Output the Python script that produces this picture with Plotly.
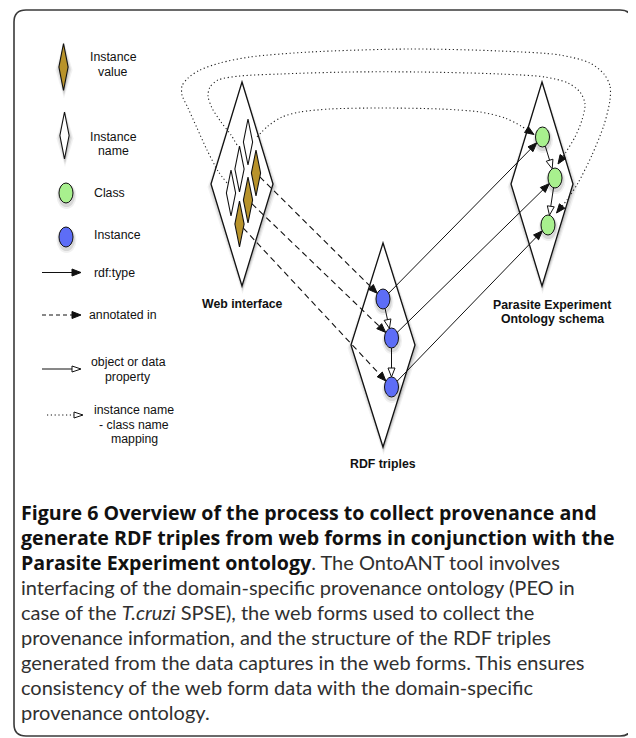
import math
import plotly.graph_objects as go

W, H = 636, 738
BODY = 8  # default page margin of the html body; figure is offset by it

# ------------------------- data -------------------------
panel_cx = [242, 383, 542]
panel_cy = [184, 345, 184]
panel_hw = [31, 32, 31]
panel_hh = [102, 102, 102]
panel_label_lines = [["Web interface"], ["RDF triples"], ["Parasite Experiment", "Ontology schema"]]
panel_label_x = [242, 383, 552]
panel_label_y = [304, 464, 305]

value_cx = [256, 248, 239.5]      # instance value (brown diamonds)
value_cy = [173, 200, 224]
name_cx = [248, 239.5, 231]       # instance name (white diamonds)
name_cy = [142, 169, 193]

inst_cx = [383, 391.5, 391.5]     # instances (blue)
inst_cy = [299, 338, 387]
class_cx = [542.5, 555, 548]      # classes (green)
class_cy = [137, 178, 225]

property_links = [(0, 1), (1, 2)]

curve_x = [
    [257, 268, 282, 300, 330, 380, 440, 480, 505, 521],
    [237, 231, 221, 212, 208, 210, 218, 240, 280, 350, 420, 500, 545, 568, 580, 585, 582, 575, 566],
    [227, 218, 207, 197, 188, 182, 182, 188, 200, 220, 250, 310, 410, 500, 560, 590, 604, 610, 610, 604, 592, 578, 567],
]
curve_y = [
    [137, 126, 117, 112, 109, 108, 109, 112, 118, 126],
    [145, 135, 122, 108, 96, 87, 80, 76, 74, 72, 72, 74, 77, 83, 92, 104, 120, 137, 152],
    [183, 171, 150, 128, 108, 95, 86, 78, 70, 63, 57, 52, 49, 51, 55, 63, 74, 86, 100, 125, 155, 183, 200],
]
curve_tip_x = [534, 558, 556.5]
curve_tip_y = [134.5, 164, 213]

legend_lines = [
    (["Instance", "value"], 113, [57, 72], "center"),
    (["Instance", "name"], 113, [136.5, 150.5], "center"),
    (["Class"], 92, [193], "left"),
    (["Instance"], 92, [234.5], "left"),
    (["rdf:type"], 92, [272.5], "left"),
    (["annotated in"], 87, [315], "left"),
    (["object or data", "property"], 128, [362, 377], "center"),
    (["instance name", "- class name", "mapping"], 134, [410, 424.5, 439], "center"),
]

caption_bold = [
    "Figure 6 Overview of the process to collect provenance and",
    "generate RDF triples from web forms in conjunction with the",
    "Parasite Experiment ontology",
    "", "", "", "", "", "",
]
caption_plain = [
    "",
    "",
    ". The OntoANT tool involves",
    "interfacing of the domain-specific provenance ontology (PEO in",
    "case of the <i>T.cruzi</i> SPSE), the web forms used to collect the",
    "provenance information, and the structure of the RDF triples",
    "generated from the data captures in the web forms. This ensures",
    "consistency of the web form data with the domain-specific",
    "provenance ontology.",
]

# ------------------------- style -------------------------
BROWN = "#b8932b"
GREEN = "#a8f08e"
BLUE = "#5d6df6"
INK = "#111111"
RX, RY = 7, 10
SHW, SHH = 4.6, 23

shapes_below = []
shapes_above = []
traces = []


def unit(dx, dy):
    d = math.hypot(dx, dy)
    return dx / d, dy / d


def ell_edge(cx, cy, ux, uy, rx=RX, ry=RY):
    t = 1 / math.sqrt((ux / rx) ** 2 + (uy / ry) ** 2)
    return cx + ux * t, cy + uy * t


def dia_edge(cx, cy, ux, uy, hw=SHW, hh=SHH):
    t = 1 / (abs(ux) / hw + abs(uy) / hh)
    return cx + ux * t, cy + uy * t


def dia_path(cx, cy, hw, hh):
    return f"M{cx},{cy-hh} L{cx+hw},{cy} L{cx},{cy+hh} L{cx-hw},{cy} Z"


def head_path(tx, ty, ux, uy, L=9, Wd=7):
    bx, by = tx - ux * L, ty - uy * L
    px, py = -uy, ux
    return (f"M{tx},{ty} L{bx+px*Wd/2},{by+py*Wd/2} "
            f"L{bx-px*Wd/2},{by-py*Wd/2} Z")


def add_line(xs, ys, dash="solid", width=1.0, color=INK):
    traces.append(go.Scatter(x=xs, y=ys, mode="lines", hoverinfo="skip",
                             line=dict(color=color, width=width, dash=dash)))


def add_head(tx, ty, ux, uy, hollow=False, L=9, Wd=7):
    shapes_above.append(dict(
        type="path", path=head_path(tx, ty, ux, uy, L, Wd), xref="x", yref="y",
        fillcolor="white" if hollow else INK, line=dict(color=INK, width=1),
        layer="above"))


def add_diamond(cx, cy, hw, hh, fill, lw, lst, shadow=True):
    layer = "below" if lst is shapes_below else "above"
    if shadow:
        for (ex, ey, dy, a) in [(4, 5, 3, 0.05), (2.5, 3, 2.5, 0.08), (1, 1.5, 2, 0.12)]:
            lst.append(dict(type="path", path=dia_path(cx + 0.5, cy + dy, hw + ex, hh + ey),
                            xref="x", yref="y", fillcolor=f"rgba(0,0,0,{a})",
                            line=dict(width=0), layer=layer))
    lst.append(dict(type="path", path=dia_path(cx, cy, hw, hh), xref="x", yref="y",
                    fillcolor=fill, line=dict(color=INK, width=lw), layer=layer))


def add_ellipse(cx, cy, fill, shadow=True):
    if shadow:
        for (e, dy, a) in [(3, 3, 0.06), (1.5, 2.5, 0.1)]:
            shapes_above.append(dict(type="circle", xref="x", yref="y",
                                     x0=cx - RX - e + 0.5, x1=cx + RX + e + 0.5,
                                     y0=cy - RY - e + dy, y1=cy + RY + e + dy,
                                     fillcolor=f"rgba(0,0,0,{a})", line=dict(width=0), layer="above"))
    shapes_above.append(dict(type="circle", xref="x", yref="y",
                             x0=cx - RX, x1=cx + RX, y0=cy - RY, y1=cy + RY,
                             fillcolor=fill, line=dict(color=INK, width=1), layer="above"))


# frame
shapes_below.append(dict(type="path", xref="x", yref="y", layer="below",
                         path="M26,10 L620,10 Q632,10 632,22 L632,724 Q632,736 620,736 "
                              "L26,736 Q14,736 14,724 L14,22 Q14,10 26,10 Z",
                         line=dict(color="#3a3a3a", width=1.6), fillcolor="white"))

# big panels
for cx, cy, hw, hh in zip(panel_cx, panel_cy, panel_hw, panel_hh):
    add_diamond(cx, cy, hw, hh, "white", 1.3, shapes_below)

# dashed "annotated in": value -> instance
for i in range(3):
    ux, uy = unit(inst_cx[i] - value_cx[i], inst_cy[i] - value_cy[i])
    sx, sy = dia_edge(value_cx[i], value_cy[i], ux, uy)
    tx, ty = ell_edge(inst_cx[i], inst_cy[i], -ux, -uy)
    add_line([sx, tx - ux * 7], [sy, ty - uy * 7], dash="6px,4px", width=1.1)
    add_head(tx, ty, ux, uy)

# solid rdf:type: instance -> class
for i in range(3):
    ux, uy = unit(class_cx[i] - inst_cx[i], class_cy[i] - inst_cy[i])
    sx, sy = ell_edge(inst_cx[i], inst_cy[i], ux, uy)
    tx, ty = ell_edge(class_cx[i], class_cy[i], -ux, -uy)
    add_line([sx, tx - ux * 7], [sy, ty - uy * 7])
    add_head(tx, ty, ux, uy)

# hollow object/data property chains
for xs, ys in [(inst_cx, inst_cy), (class_cx, class_cy)]:
    for a, b in property_links:
        ux, uy = unit(xs[b] - xs[a], ys[b] - ys[a])
        sx, sy = ell_edge(xs[a], ys[a], ux, uy)
        tx, ty = ell_edge(xs[b], ys[b], -ux, -uy)
        add_line([sx, tx - ux * 8], [sy, ty - uy * 8])
        add_head(tx, ty, ux, uy, hollow=True, L=9, Wd=7)

# dotted instance name -> class name mapping
for i in range(3):
    tx, ty = curve_tip_x[i], curve_tip_y[i]
    ux, uy = unit(tx - curve_x[i][-1], ty - curve_y[i][-1])
    xs = curve_x[i] + [tx - ux * 7]
    ys = curve_y[i] + [ty - uy * 7]
    traces.append(go.Scatter(x=xs, y=ys, mode="lines", hoverinfo="skip",
                             line=dict(color="#222", width=1.1, dash="1.2px,2.6px",
                                       shape="spline", smoothing=0.8)))
    add_head(tx, ty, ux, uy)

# small diamonds inside web interface
for cx, cy in zip(name_cx, name_cy):
    add_diamond(cx, cy, SHW, SHH, "white", 1.1, shapes_above, shadow=False)
for cx, cy in zip(value_cx, value_cy):
    add_diamond(cx, cy, SHW, SHH, BROWN, 1.1, shapes_above, shadow=False)

# ellipses
for cx, cy in zip(inst_cx, inst_cy):
    add_ellipse(cx, cy, BLUE)
for cx, cy in zip(class_cx, class_cy):
    add_ellipse(cx, cy, GREEN)

# ---------------- legend icons ----------------
add_diamond(63.5, 67, 4.6, 23.5, BROWN, 1.1, shapes_above)
add_diamond(64.5, 135.5, 4.6, 23.5, "white", 1.1, shapes_above)
add_ellipse(66, 193, GREEN)
add_ellipse(66, 237, BLUE)
add_line([42, 73], [272.5, 272.5])
add_head(81, 272.5, 1, 0)
add_line([42, 73], [315, 315], dash="4px,3px")
add_head(81, 315, 1, 0)
add_line([42, 72], [369, 369])
add_head(81, 369, 1, 0, hollow=True, L=9, Wd=6)
add_line([47, 74], [415, 415], dash="1.2px,2.6px")
add_head(83, 415, 1, 0, hollow=True, L=9, Wd=6)

# ---------------- text ----------------
annotations = []
LBL_FONT = "Liberation Sans, Arial, Helvetica, sans-serif"
for lines, x, ys, align in legend_lines:
    for t, y in zip(lines, ys):
        annotations.append(dict(x=x, y=y, xref="x", yref="y", text=t, showarrow=False,
                                xanchor=align, yanchor="middle",
                                font=dict(family=LBL_FONT, size=12.3, color="#111")))
for lines, x, y0 in zip(panel_label_lines, panel_label_x, panel_label_y):
    for k, t in enumerate(lines):
        annotations.append(dict(x=x, y=y0 + 13.5 * k, xref="x", yref="y", text=f"<b>{t}</b>",
                                showarrow=False, xanchor="center", yanchor="middle",
                                font=dict(family=LBL_FONT, size=12.3, color="#111")))
BOLD_STYLE = "font-family:'Open Sans';font-size:19.6px;color:#111"
for k, (b, p) in enumerate(zip(caption_bold, caption_plain)):
    txt = (f"<b><span style=\"{BOLD_STYLE}\">{b}</span></b>" if b else "") + p
    annotations.append(dict(x=19, y=512 + 25 * k, xref="x", yref="y", text=txt,
                            showarrow=False, xanchor="left", yanchor="middle",
                            font=dict(family="Lato, sans-serif", size=20, color="#303030")))

fig = go.Figure(traces)
fig.update_layout(
    width=W - BODY, height=H - BODY, autosize=False,
    margin=dict(l=0, r=0, t=0, b=0, pad=0),
    paper_bgcolor="white", plot_bgcolor="white",
    showlegend=False,
    xaxis=dict(range=[BODY, W], visible=False, fixedrange=True),
    yaxis=dict(range=[H, BODY], visible=False, fixedrange=True),
    shapes=shapes_below + shapes_above,
    annotations=annotations,
)
fig.write_html("out.html")
